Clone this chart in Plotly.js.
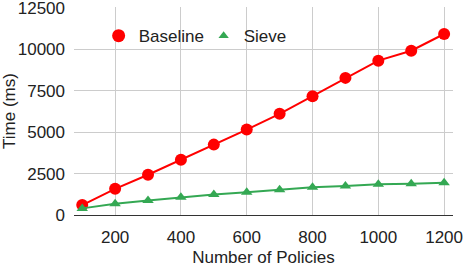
<!DOCTYPE html>
<html>
<head>
<meta charset="utf-8">
<script src="https://cdn.plot.ly/plotly-3.0.1.min.js"></script>
<style>html,body{margin:0;padding:0;background:#fff;}#chart{width:465px;height:268px;}</style>
</head>
<body>
<div id="chart"></div>
<script>
var policies = [100, 200, 300, 400, 500, 600, 700, 800, 900, 1000, 1100, 1200];
var baseline = [600, 1580, 2430, 3330, 4250, 5160, 6110, 7170, 8280, 9320, 9920, 10930];
var sieve = [400, 680, 880, 1070, 1240, 1380, 1520, 1670, 1750, 1850, 1890, 1950];
var xTicks = [200, 400, 600, 800, 1000, 1200];
var yTicks = [0, 2500, 5000, 7500, 10000, 12500];
var seriesNames = ['Baseline', 'Sieve'];
var seriesColors = ['#ff0000', '#34a853'];

var fam = 'Arial, "Liberation Sans", sans-serif';
var txt = '#222222';

var traces = [
  {x: policies, y: baseline, name: seriesNames[0], type: 'scatter', mode: 'lines+markers', showlegend: false,
   line: {color: seriesColors[0], width: 2},
   marker: {color: seriesColors[0], size: 12, symbol: 'circle'}},
  {x: policies, y: sieve, name: seriesNames[1], type: 'scatter', mode: 'lines+markers', showlegend: false,
   line: {color: seriesColors[1], width: 2},
   marker: {color: seriesColors[1], size: 10, symbol: 'triangle-up'}},
  {x: [null], y: [null], name: seriesNames[0], type: 'scatter', mode: 'markers',
   marker: {color: seriesColors[0], size: 13, symbol: 'circle'}},
  {x: [null], y: [null], name: seriesNames[1], type: 'scatter', mode: 'markers',
   marker: {color: seriesColors[1], size: 9, symbol: 'triangle-up'}}
];

var layout = {
  width: 465, height: 268,
  margin: {l: 74, r: 12, t: 7, b: 53},
  paper_bgcolor: '#ffffff', plot_bgcolor: '#ffffff',
  font: {family: fam, size: 17, color: txt},
  showlegend: true,
  legend: {orientation: 'h', x: 0.065, y: 0.86, xanchor: 'left', yanchor: 'middle',
           font: {family: fam, size: 17, color: txt},
           bgcolor: 'rgba(0,0,0,0)', itemwidth: 30, entrywidth: 60},
  xaxis: {range: [75, 1227], tickvals: xTicks, ticktext: xTicks.map(String),
          showgrid: true, gridcolor: '#cccccc', gridwidth: 1,
          zeroline: false, showline: true, linecolor: '#333333', linewidth: 1,
          ticks: '', ticklabelstandoff: 7, ticklabeloverflow: 'allow',
          tickfont: {family: fam, size: 17, color: txt},
          title: {text: 'Number of Policies', font: {family: fam, size: 17, color: txt}, standoff: 4}},
  yaxis: {range: [0, 12560], tickvals: yTicks, ticktext: yTicks.map(String),
          showgrid: true, gridcolor: '#cccccc', gridwidth: 1,
          zeroline: false, showline: false, ticks: '', ticklabelstandoff: 8, ticklabeloverflow: 'allow',
          tickfont: {family: fam, size: 17, color: txt},
          title: {text: 'Time (ms)', font: {family: fam, size: 17, color: txt}, standoff: 6}}
};

Plotly.newPlot('chart', traces, layout, {displayModeBar: false, staticPlot: true});
</script>
</body>
</html>
